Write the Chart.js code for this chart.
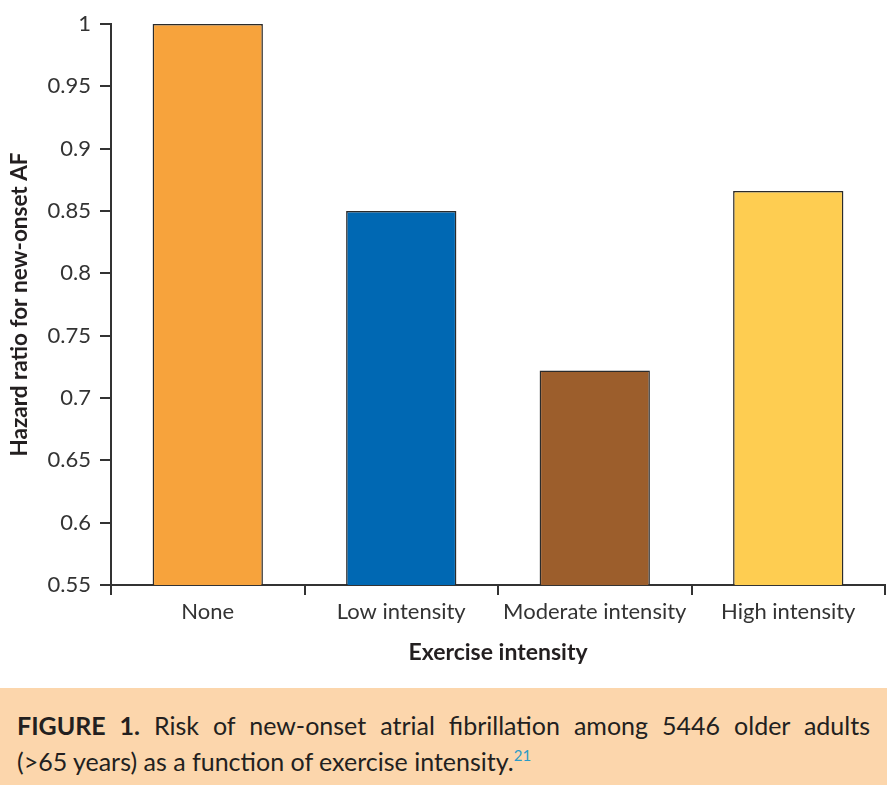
<!DOCTYPE html>
<html>
<head>
<meta charset="utf-8">
<script src="https://cdn.jsdelivr.net/npm/chart.js@4.4.0/dist/chart.umd.min.js"></script>
<style>
  html, body { margin: 0; padding: 0; background: #fff; }
  #wrap { position: relative; width: 887px; height: 688px; }
  .caption {
    background: #fcd6ac;
    width: 887px;
    height: 97px;
    box-sizing: border-box;
    padding: 19px 17px 0 17px;
    font-family: Lato, "Open Sans", sans-serif;
    font-size: 25px;
    color: #231f20;
    line-height: 36px;
  }
  .caption .l1 { text-align: justify; text-align-last: justify; }
  .caption b { font-weight: bold; }
  .caption sup { color: #2a9bc6; font-size: 15px; vertical-align: 10px; line-height: 0; }
</style>
</head>
<body>
<div id="wrap"><canvas id="grafico" width="887" height="688"></canvas></div>
<div class="caption">
  <div class="l1"><b>FIGURE 1.</b> Risk of new-onset atrial fibrillation among 5446 older adults</div>
  <div>(&gt;65 years) as a function of exercise intensity.<sup>21</sup></div>
</div>
<script>
const ctx = document.getElementById('grafico').getContext('2d');

// Hazard ratio por intensidad de ejercicio
const categorias = ['None', 'Low intensity', 'Moderate intensity', 'High intensity'];
const hazardRatio = [1.0, 0.85, 0.722, 0.866];
const colores = ['#f7a33c', '#0068b3', '#9c5e2c', '#fecd51'];

const fuente = 'Lato, "Open Sans", sans-serif';

new Chart(ctx, {
  type: 'bar',
  data: {
    labels: categorias,
    datasets: [{
      data: hazardRatio,
      backgroundColor: colores,
      borderColor: '#2b2b2b',
      borderWidth: 1.5,
      borderSkipped: false,
      categoryPercentage: 0.57,
      barPercentage: 1.0
    }]
  },
  options: {
    responsive: false,
    animation: false,
    layout: { padding: { top: 24, right: 2, left: 6, bottom: 22 } },
    plugins: {
      legend: { display: false },
      tooltip: { enabled: false }
    },
    scales: {
      y: {
        min: 0.55,
        max: 1,
        ticks: {
          stepSize: 0.05,
          color: '#333',
          font: { family: fuente, size: 22 },
          padding: 9,
          callback: v => Math.round(v * 100) / 100
        },
        grid: { drawOnChartArea: false, drawTicks: true, tickLength: 11, color: '#333', lineWidth: 2 },
        border: { display: true, color: '#333', width: 2 },
        title: {
          display: true,
          text: 'Hazard ratio for new-onset AF',
          color: '#231f20',
          font: { family: fuente, size: 22.5, weight: 'bold' },
          padding: { top: 0, bottom: 4 }
        },
        afterFit: s => { s.width = 105; }
      },
      x: {
        ticks: {
          color: '#333',
          font: { family: fuente, size: 22 },
          padding: 4,
          maxRotation: 0
        },
        grid: { offset: true, drawOnChartArea: false, drawTicks: true, tickLength: 10, color: '#333', lineWidth: 2 },
        border: { display: true, color: '#333', width: 2 },
        title: {
          display: true,
          text: 'Exercise intensity',
          color: '#231f20',
          font: { family: fuente, size: 23, weight: 'bold' },
          padding: { top: 8, bottom: 0 }
        },
        afterFit: s => { s.height = 81; }
      }
    }
  }
});
</script>
</body>
</html>
